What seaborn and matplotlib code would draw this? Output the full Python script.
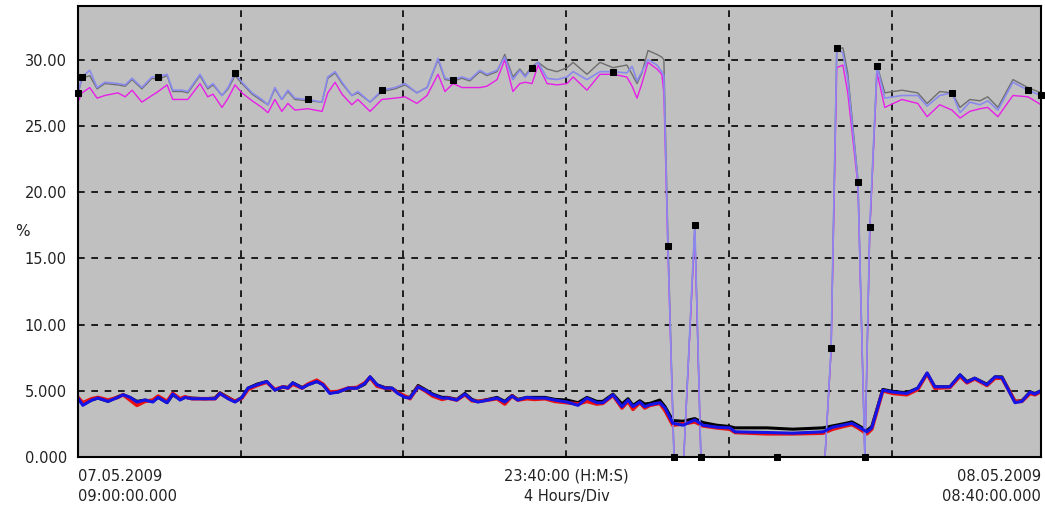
import matplotlib
matplotlib.use("Agg")
import matplotlib.pyplot as plt
import seaborn as sns
import pandas as pd

# ---- data: hours since 07.05.2009 09:00 ----
t_top = [0.00, 0.10, 0.29, 0.47, 0.66, 0.98, 1.16, 1.33, 1.57, 1.82, 1.97, 2.19, 2.33, 2.56, 2.70,
         3.00, 3.19, 3.32, 3.54, 3.69, 3.86, 4.03, 4.28, 4.52, 4.67, 4.84, 5.01, 5.16, 5.33, 5.65,
         6.00, 6.14, 6.32, 6.49, 6.73, 6.88, 7.18, 7.47, 7.79, 8.04, 8.33, 8.58, 8.85, 9.02, 9.22,
         9.44, 9.63, 9.88, 10.05, 10.30, 10.49, 10.69, 10.86, 10.99, 11.16, 11.31, 11.53, 11.77,
         12.02, 12.17, 12.51, 12.83, 13.15, 13.49, 13.62, 13.74, 13.86, 14.01, 14.23, 14.35, 14.40,
         14.50, 14.65, 14.89, 15.16, 15.31, 17.18, 18.36, 18.51, 18.65, 18.80, 18.92, 19.17, 19.34,
         19.46, 19.64, 19.83, 20.25, 20.64, 20.87, 21.18, 21.48, 21.68, 21.92, 22.17, 22.36, 22.61,
         22.98, 23.35, 23.67]

periwinkle = [27.5, 28.7, 29.2, 27.9, 28.3, 28.2, 28.1, 28.6, 27.9, 28.7, 28.7, 28.9, 27.7, 27.7, 27.6,
              28.9, 27.9, 28.2, 27.3, 27.9, 29.0, 28.3, 27.5, 27.0, 26.6, 27.9, 27.0, 27.7, 27.1, 27.0,
              26.8, 28.7, 29.1, 28.3, 27.3, 27.6, 26.8, 27.7, 27.9, 28.2, 27.5, 27.9, 30.1, 28.6, 28.5,
              28.7, 28.5, 29.2, 28.9, 29.2, 30.2, 28.5, 29.2, 28.7, 29.4, 29.8, 28.6, 28.5,
              28.7, 29.1, 28.5, 29.1, 29.1, 29.0, 29.5, 28.4, 29.1, 30.0, 29.6, 29.1, 28.8,
              15.9, 0.0, 0.0, 17.5, 0.0, 0.0, 0.0, 8.2, 30.9, 30.5, 28.5, 20.8, 0.0,
              17.4, 29.5, 27.1, 27.3, 27.3, 26.5, 27.3, 27.5, 26.0, 26.8, 26.6, 26.9, 26.2,
              28.3, 27.7, 27.3]

gray = [27.4, 28.6, 28.8, 27.8, 28.2, 28.1, 28.0, 28.5, 27.8, 28.6, 28.5, 28.8, 27.6, 27.6, 27.5,
        28.8, 27.8, 28.1, 27.3, 27.8, 28.8, 28.2, 27.4, 26.9, 26.6, 27.8, 27.0, 27.6, 27.0, 26.9,
        26.8, 28.6, 29.0, 28.2, 27.3, 27.5, 26.8, 27.6, 27.8, 28.1, 27.5, 27.9, 30.0, 28.5, 28.4,
        28.6, 28.4, 29.1, 28.8, 29.1, 30.4, 28.7, 29.3, 28.8, 29.5, 29.8, 29.3, 29.1,
        29.4, 29.8, 28.9, 29.8, 29.4, 29.6, 28.9, 28.2, 29.0, 30.7, 30.4, 30.2, 30.0,
        16.5, 0.0, 0.0, 17.3, 0.0, 0.0, 0.0, 8.0, 30.8, 30.9, 29.0, 21.0, 0.0,
        17.0, 29.6, 27.5, 27.7, 27.5, 26.7, 27.6, 27.5, 26.4, 27.0, 26.9, 27.2, 26.4,
        28.5, 27.9, 27.5]

magenta = [26.8, 27.5, 27.9, 27.1, 27.3, 27.5, 27.2, 27.7, 26.8, 27.3, 27.6, 28.1, 27.0, 27.0, 27.0,
           28.2, 27.2, 27.4, 26.4, 27.1, 28.1, 27.5, 26.9, 26.4, 26.0, 27.0, 26.1, 26.7, 26.2, 26.3,
           26.1, 27.5, 28.3, 27.4, 26.6, 27.0, 26.1, 27.0, 27.1, 27.2, 26.7, 27.3, 28.9, 27.6, 28.2,
           27.9, 27.9, 27.9, 28.0, 28.5, 30.0, 27.6, 28.2, 28.3, 28.2, 29.6, 28.2, 28.1,
           28.2, 28.7, 27.7, 28.9, 28.9, 28.7, 28.0, 27.1, 28.2, 29.8, 29.3, 28.9, 27.5,
           15.5, 0.0, 0.0, 17.0, 0.0, 0.0, 0.0, 8.0, 29.4, 29.6, 27.5, 20.5, 0.0,
           17.0, 29.0, 26.4, 27.0, 26.7, 25.7, 26.6, 26.2, 25.6, 26.1, 26.3, 26.4, 25.7,
           27.3, 27.2, 26.6]

marker_idx = [0, 1, 10, 20, 29, 37, 44, 54, 62, 71, 72, 74, 75, 76, 78, 79, 82, 83, 84, 85, 91, 98, 99]

t_low = [0.00, 0.12, 0.34, 0.49, 0.74, 0.98, 1.11, 1.28, 1.45, 1.65, 1.84, 1.97, 2.19, 2.33, 2.51,
         2.63, 2.80, 3.12, 3.37, 3.49, 3.69, 3.86, 4.03, 4.18, 4.40, 4.64, 4.84, 5.04, 5.16, 5.28,
         5.51, 5.65, 5.87, 6.02, 6.19, 6.39, 6.64, 6.86, 7.05, 7.18, 7.35, 7.54, 7.72, 7.86, 8.04,
         8.16, 8.36, 8.53, 8.72, 8.95, 9.09, 9.31, 9.51, 9.68, 9.83, 10.08, 10.30, 10.49, 10.67,
         10.81, 11.03, 11.23, 11.48, 11.72, 12.02, 12.29, 12.51, 12.75, 12.90, 13.15, 13.37, 13.52,
         13.64, 13.81, 13.93, 14.06, 14.30, 14.43, 14.62, 14.87, 15.16, 15.36, 15.70, 16.02, 16.15,
         16.93, 17.57, 18.31, 18.55, 18.80, 19.02, 19.17, 19.39, 19.51, 19.78, 20.03, 20.37, 20.64,
         20.87, 21.06, 21.43, 21.68, 21.85, 22.04, 22.34, 22.54, 22.71, 23.03, 23.20, 23.40, 23.52,
         23.67]

blue = [4.45, 3.9, 4.3, 4.45, 4.2, 4.5, 4.7, 4.5, 4.15, 4.3, 4.15, 4.5, 4.1, 4.75, 4.3,
        4.5, 4.4, 4.4, 4.4, 4.8, 4.4, 4.15, 4.5, 5.2, 5.45, 5.7, 5.05, 5.3, 5.2, 5.6,
        5.2, 5.45, 5.7, 5.45, 4.8, 4.9, 5.2, 5.2, 5.55, 6.05, 5.45, 5.2, 5.2, 4.8, 4.5,
        4.45, 5.3, 5.05, 4.7, 4.45, 4.45, 4.3, 4.75, 4.3, 4.15, 4.3, 4.45, 4.15, 4.6,
        4.3, 4.5, 4.45, 4.45, 4.3, 4.15, 3.9, 4.45, 4.1, 4.1, 4.7, 3.8, 4.3,
        3.8, 4.15, 3.8, 3.95, 4.1, 3.7, 2.55, 2.4, 2.8, 2.4, 2.25, 2.2, 1.9,
        1.85, 1.8, 1.9, 2.25, 2.4, 2.55, 2.3, 1.9, 2.2, 5.05, 4.9, 4.8, 5.2,
        6.35, 5.3, 5.3, 6.2, 5.65, 5.95, 5.45, 6.05, 6.0, 4.1, 4.2, 4.9, 4.75,
        5.0]

red = [4.5, 4.1, 4.4, 4.5, 4.3, 4.5, 4.7, 4.3, 3.9, 4.2, 4.3, 4.6, 4.2, 4.8, 4.4,
       4.55, 4.4, 4.4, 4.4, 4.8, 4.45, 4.2, 4.45, 5.1, 5.4, 5.65, 5.1, 5.3, 5.2, 5.5,
       5.2, 5.5, 5.8, 5.5, 4.9, 4.95, 5.2, 5.25, 5.6, 6.0, 5.35, 5.2, 5.15, 4.85, 4.6,
       4.4, 5.3, 5.0, 4.6, 4.35, 4.45, 4.3, 4.7, 4.25, 4.2, 4.3, 4.4, 4.0, 4.6,
       4.3, 4.4, 4.35, 4.4, 4.2, 4.1, 4.0, 4.2, 4.0, 4.05, 4.65, 3.7, 4.2,
       3.6, 4.1, 3.7, 3.9, 4.05, 3.5, 2.4, 2.5, 2.65, 2.35, 2.2, 2.1, 1.85,
       1.75, 1.75, 1.8, 2.1, 2.3, 2.45, 2.2, 1.75, 2.1, 5.0, 4.8, 4.7, 5.1,
       6.3, 5.2, 5.25, 6.1, 5.6, 5.9, 5.4, 5.95, 5.95, 4.2, 4.2, 4.8, 4.7,
       4.95]

black = [4.4, 4.0, 4.3, 4.45, 4.2, 4.55, 4.7, 4.5, 4.2, 4.3, 4.2, 4.5, 4.1, 4.7, 4.35,
         4.5, 4.45, 4.4, 4.45, 4.85, 4.5, 4.2, 4.5, 5.2, 5.5, 5.7, 5.05, 5.3, 5.25, 5.6,
         5.25, 5.45, 5.7, 5.5, 4.85, 4.9, 5.2, 5.2, 5.5, 6.05, 5.45, 5.25, 5.2, 4.9, 4.55,
         4.5, 5.4, 5.1, 4.75, 4.5, 4.5, 4.35, 4.8, 4.35, 4.2, 4.35, 4.5, 4.2, 4.65,
         4.35, 4.5, 4.5, 4.5, 4.35, 4.3, 4.1, 4.5, 4.2, 4.2, 4.75, 4.0, 4.4,
         3.9, 4.25, 4.0, 4.05, 4.3, 3.8, 2.75, 2.7, 2.9, 2.6, 2.4, 2.3, 2.2,
         2.2, 2.1, 2.2, 2.35, 2.5, 2.65, 2.4, 2.0, 2.3, 5.1, 4.95, 4.85, 5.2,
         6.3, 5.3, 5.3, 6.2, 5.7, 5.95, 5.5, 6.05, 6.05, 4.2, 4.25, 4.9, 4.8,
         5.0]

y_ticks = [0, 5, 10, 15, 20, 25, 30]
y_labels = ["0.000", "5.000", "10.00", "15.00", "20.00", "25.00", "30.00"]
x_grid = [4, 8, 12, 16, 20]
x_end = 23.67

top = pd.DataFrame({"t": t_top, "periwinkle": periwinkle, "gray": gray, "magenta": magenta})
low = pd.DataFrame({"t": t_low, "blue": blue, "red": red, "black": black})

fig = plt.figure(figsize=(10.45, 5.11), dpi=100)
ax = fig.add_axes([0.0746, 0.1057, 0.9216, 0.8826])
ax.set_facecolor("#c0c0c0")

for v in x_grid:
    ax.axvline(v, color="black", lw=1.2, ls=(0, (4, 4)), zorder=1)
for v in y_ticks[1:]:
    ax.axhline(v, color="black", lw=1.2, ls=(0, (4, 4)), zorder=1)

sns.lineplot(data=top, x="t", y="gray", ax=ax, color="#6e6e6e", lw=1.0, zorder=3)
sns.lineplot(data=top, x="t", y="magenta", ax=ax, color="#e81ee8", lw=1.0, zorder=3)
sns.lineplot(data=top, x="t", y="periwinkle", ax=ax, color="#8a8aee", lw=1.2, zorder=4)
# black square sample markers on the periwinkle trace
sns.lineplot(data=top, x="t", y="periwinkle", ax=ax, lw=0, zorder=12,
             marker="s", markersize=5, markerfacecolor="black", markeredgecolor="black",
             markevery=marker_idx, clip_on=False)

sns.lineplot(data=low, x="t", y="black", ax=ax, color="black", lw=2.2, zorder=3)
sns.lineplot(data=low, x="t", y="red", ax=ax, color="#ee1010", lw=2.6, zorder=3)
sns.lineplot(data=low, x="t", y="blue", ax=ax, color="#1414e6", lw=2.2, zorder=4)

ax.set_xlim(0, x_end)
ax.set_ylim(0, 34.06)
ax.set_yticks(y_ticks)
ax.set_yticklabels(y_labels, fontsize=10.5, color="#222222")
ax.set_xticks([])
ax.tick_params(axis="y", length=0, pad=8)
ax.set_xlabel("")
ax.set_ylabel("")
for s in ax.spines.values():
    s.set_color("black")
    s.set_linewidth(1.5)
    s.set_zorder(10)

fig.text(0.014, 0.546, "%", fontsize=11, color="#222222", va="center", ha="left")

fs = 10.5
fig.text(0.0746, 0.068, "07.05.2009", fontsize=fs, ha="left", va="center", color="#222222")
fig.text(0.0746, 0.028, "09:00:00.000", fontsize=fs, ha="left", va="center", color="#222222")
fig.text(0.542, 0.068, "23:40:00 (H:M:S)", fontsize=fs, ha="center", va="center", color="#222222")
fig.text(0.542, 0.028, "4 Hours/Div", fontsize=fs, ha="center", va="center", color="#222222")
fig.text(0.996, 0.068, "08.05.2009", fontsize=fs, ha="right", va="center", color="#222222")
fig.text(0.996, 0.028, "08:40:00.000", fontsize=fs, ha="right", va="center", color="#222222")

fig.savefig("out.png", dpi=100, facecolor="white")
